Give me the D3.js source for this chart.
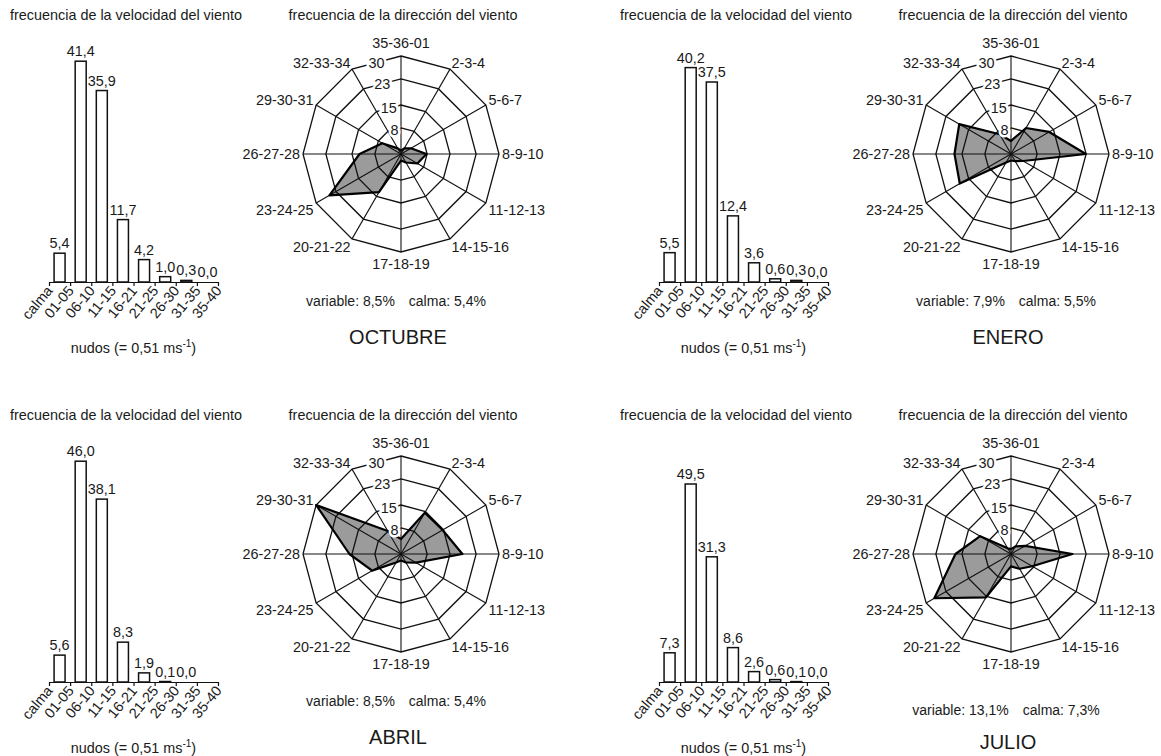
<!DOCTYPE html>
<html>
<head>
<meta charset="utf-8">
<script src="https://cdn.jsdelivr.net/npm/d3@7"></script>
<style>
  body { margin: 0; background: #fff; }
  svg { display: block; font-family: "Liberation Sans", Arial, sans-serif; }
  text { fill: #1a1a1a; }
</style>
</head>
<body>
<svg id="chart" width="1161" height="756"></svg>
<script>
// --- data ---
const months = ['OCTUBRE', 'ENERO', 'ABRIL', 'JULIO'];

const speedLabels = ['calma', '01-05', '06-10', '11-15', '16-21', '21-25', '26-30', '31-35', '35-40'];
const speedOct = [5.4, 41.4, 35.9, 11.7, 4.2, 1.0, 0.3, 0.0];
const speedEne = [5.5, 40.2, 37.5, 12.4, 3.6, 0.6, 0.3, 0.0];
const speedAbr = [5.6, 46.0, 38.1, 8.3, 1.9, 0.1, 0.0];
const speedJul = [7.3, 49.5, 31.3, 8.6, 2.6, 0.6, 0.1, 0.0];
const speedMax = [45, 45, 50, 60];

const directions = ['35-36-01', '2-3-4', '5-6-7', '8-9-10', '11-12-13', '14-15-16',
  '17-18-19', '20-21-22', '23-24-25', '26-27-28', '29-30-31', '32-33-34'];
const dirOct = [1.0, 2.0, 3.5, 7.8, 5.8, 3.0, 2.0, 13.5, 25.3, 12.7, 6.6, 2.0];
const dirEne = [4.0, 9.2, 13.5, 22.9, 4.3, 2.5, 2.0, 3.0, 18.1, 17.3, 18.3, 7.0];
const dirAbr = [4.6, 14.6, 14.7, 18.8, 5.3, 3.0, 2.0, 3.0, 10.2, 15.8, 30.0, 8.1];
const dirJul = [1.5, 2.7, 5.0, 18.8, 7.5, 5.2, 3.8, 15.3, 27.1, 17.0, 10.9, 2.0];
const ringTicks = [8, 15, 23, 30];

const variablePct = ['8,5%', '7,9%', '8,5%', '13,1%'];
const calmaPct = ['5,4%', '5,5%', '5,4%', '7,3%'];

const speeds = [speedOct, speedEne, speedAbr, speedJul];
const dirs = [dirOct, dirEne, dirAbr, dirJul];

// panel offsets (layout only)
const panels = [
  { ox: 0, oy: 0, foot: 0 },
  { ox: 610, oy: 0, foot: 0 },
  { ox: 0, oy: 400, foot: 0 },
  { ox: 610, oy: 400, foot: 9 },
];

const svg = d3.select('#chart');
const FS = 14.4;

panels.forEach((p, k) => {
  const g = svg.append('g').attr('transform', `translate(${p.ox},${p.oy})`);

  // ---------- speed histogram ----------
  const x = d3.scaleLinear().domain([0, speedLabels.length - 1]).range([49, 218]);
  const y = d3.scaleLinear().domain([0, speedMax[k]]).range([282, 42]);
  const band = x(1) - x(0);
  const barW = 11;

  g.append('text')
    .attr('x', 10).attr('y', 19.5)
    .attr('font-size', FS)
    .text('frecuencia de la velocidad del viento');

  g.selectAll('rect.bar')
    .data(speeds[k])
    .join('rect')
    .attr('class', 'bar')
    .attr('x', (d, i) => x(i) + (band - barW) / 2)
    .attr('y', (d) => y(d))
    .attr('width', barW)
    .attr('height', (d) => y(0) - y(d))
    .attr('fill', '#fff')
    .attr('stroke', '#111')
    .attr('stroke-width', 1.5);

  g.selectAll('text.val')
    .data(speeds[k])
    .join('text')
    .attr('class', 'val')
    .attr('x', (d, i) => x(i) + band / 2)
    .attr('y', (d) => y(d) - 5)
    .attr('text-anchor', 'middle')
    .attr('font-size', FS)
    .text((d) => d.toFixed(1).replace('.', ','));

  const axis = d3.axisBottom(x)
    .tickValues(d3.range(speedLabels.length))
    .tickSize(4)
    .tickSizeOuter(0)
    .tickFormat((i) => speedLabels[i]);

  const ax = g.append('g').attr('transform', `translate(0,${y(0)})`).call(axis);
  ax.select('.domain').attr('stroke', '#111').attr('stroke-width', 1.2);
  ax.selectAll('.tick line').attr('stroke', '#111').attr('stroke-width', 1.2);
  ax.selectAll('.tick text')
    .attr('x', 0).attr('y', 0).attr('dy', 0)
    .attr('transform', 'translate(4,9) rotate(-50)')
    .attr('text-anchor', 'end')
    .attr('font-size', FS)
    .attr('font-family', '"Liberation Sans", Arial, sans-serif')
    .attr('fill', '#1a1a1a');

  const nud = g.append('text')
    .attr('x', (x.range()[0] + x.range()[1]) / 2)
    .attr('y', 353)
    .attr('text-anchor', 'middle')
    .attr('font-size', FS);
  nud.append('tspan').text('nudos (= 0,51 ms');
  nud.append('tspan').attr('font-size', 10).attr('dy', -6).text('-1');
  nud.append('tspan').attr('dy', 6).text(')');

  // ---------- direction radar ----------
  const cx = 401, cy = 154;
  const R = 98;
  const r = d3.scaleLinear().domain([0, 30]).range([0, R]);
  const step = (2 * Math.PI) / directions.length;
  const rg = g.append('g').attr('transform', `translate(${cx},${cy})`);

  g.append('text')
    .attr('x', cx + 2).attr('y', 19.5)
    .attr('text-anchor', 'middle')
    .attr('font-size', FS)
    .text('frecuencia de la dirección del viento');

  const radial = d3.lineRadial()
    .angle((d, i) => i * step)
    .curve(d3.curveLinearClosed);

  // polygon fill below the grid
  rg.append('path')
    .attr('d', radial.radius((d) => r(d))(dirs[k]))
    .attr('fill', '#9b9b9b');

  // rings
  rg.selectAll('path.ring')
    .data(ringTicks)
    .join('path')
    .attr('class', 'ring')
    .attr('d', (t) => radial.radius(() => r(t))(directions))
    .attr('fill', 'none')
    .attr('stroke', '#111')
    .attr('stroke-width', 1.3);

  // spokes
  rg.selectAll('line.spoke')
    .data(directions)
    .join('line')
    .attr('class', 'spoke')
    .attr('x1', 0).attr('y1', 0)
    .attr('x2', (d, i) => r(30) * Math.sin(i * step))
    .attr('y2', (d, i) => -r(30) * Math.cos(i * step))
    .attr('stroke', '#111')
    .attr('stroke-width', 1.1);

  // polygon outline
  rg.append('path')
    .attr('d', radial.radius((d) => r(d))(dirs[k]))
    .attr('fill', 'none')
    .attr('stroke', '#000')
    .attr('stroke-width', 2.2)
    .attr('stroke-linejoin', 'round');

  // ring labels on the top-left segment
  rg.selectAll('text.rt')
    .data(ringTicks)
    .join('text')
    .attr('class', 'rt')
    .attr('x', (t) => -0.25 * r(t))
    .attr('y', (t) => -r(t) + 0.25 * r(t) * 0.268)
    .attr('dy', '0.36em')
    .attr('text-anchor', 'middle')
    .attr('font-size', FS)
    .attr('stroke', '#fff')
    .attr('stroke-width', 5)
    .attr('paint-order', 'stroke')
    .text((t) => t);

  // direction labels
  rg.selectAll('text.dl')
    .data(directions)
    .join('text')
    .attr('class', 'dl')
    .attr('font-size', FS)
    .attr('dy', '0.36em')
    .each(function (d, i) {
      const a = i * step;
      const s = Math.sin(a), c = Math.cos(a);
      const t = d3.select(this);
      if (Math.abs(s) < 0.01) {
        t.attr('x', 0).attr('y', c > 0 ? -(R + 13) : R + 12).attr('text-anchor', 'middle');
      } else {
        t.attr('x', (R + 3) * s)
          .attr('y', -(R + 3) * c - (c > 0.01 ? 4 : c < -0.01 ? -5 : 0))
          .attr('text-anchor', s > 0 ? 'start' : 'end');
      }
      t.text(d);
    });

  // footer
  const foot = g.append('text')
    .attr('x', cx - 5).attr('y', cy + 152 + p.foot)
    .attr('text-anchor', 'middle')
    .attr('font-size', 14);
  foot.append('tspan').text('variable: ' + variablePct[k]);
  foot.append('tspan').attr('dx', 14).text('calma: ' + calmaPct[k]);

  g.append('text')
    .attr('x', cx - 3).attr('y', cy + 190 + p.foot * 0.5)
    .attr('text-anchor', 'middle')
    .attr('font-size', 20)
    .text(months[k]);
});
</script>
</body>
</html>
